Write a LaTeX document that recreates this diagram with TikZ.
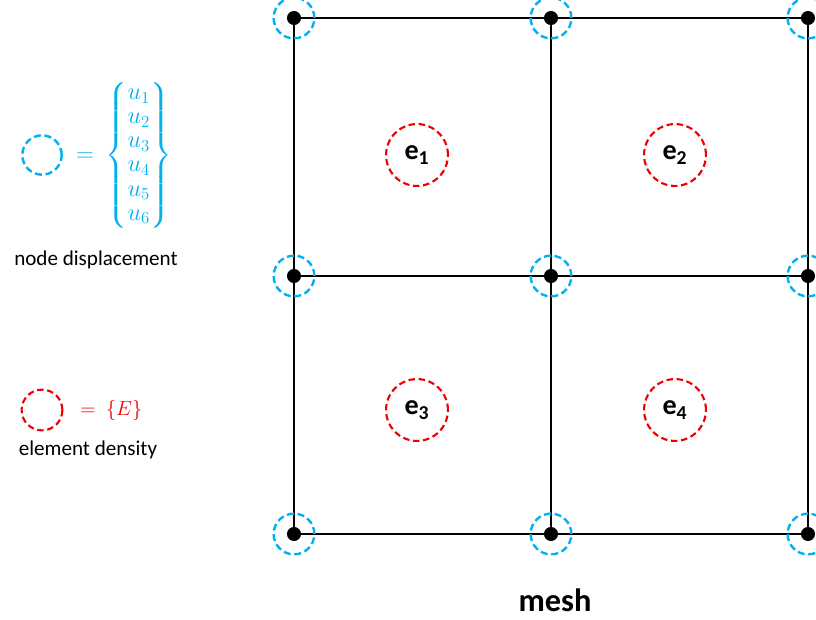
\documentclass[tikz,border=0pt]{standalone}
\usepackage{amsmath}
\usepackage{fontspec}
\setmainfont{Carlito}
\definecolor{dofblue}{RGB}{0,176,240}
\definecolor{elemred}{RGB}{238,0,0}

\begin{document}
\begin{tikzpicture}[
x = 0.025cm,
y = -0.025cm,
dot/.style = {circle, fill=black, inner sep=0pt, minimum size=10},
dof/.style = {circle, draw=dofblue, line width=1.7pt, dash pattern=on 5pt off 2.6pt, inner sep=0pt, minimum size=29},
elem/.style = {circle, draw=elemred, line width=1.5pt, dash pattern=on 4.6pt off 2.6pt, inner sep=0pt, minimum size=44, font=\fontsize{20}{22}\selectfont\bfseries},
bar/.style = {line width=1.9pt}
]
  \useasboundingbox (0,0) rectangle (816,619);

  % mesh points
  \node[dot] (p11) at (294,18) {};
  \node[dot] (p12) at (551,18) {};
  \node[dot] (p13) at (808,18) {};
  \node[dot] (p21) at (294,276) {};
  \node[dot] (p22) at (551,276) {};
  \node[dot] (p23) at (808,276) {};
  \node[dot] (p31) at (294,534) {};
  \node[dot] (p32) at (551,534) {};
  \node[dot] (p33) at (808,534) {};

  % element edges
  \draw[bar] (p11) -- (p12) -- (p13);
  \draw[bar] (p21) -- (p22) -- (p23);
  \draw[bar] (p31) -- (p32) -- (p33);
  \draw[bar] (p11) -- (p21) -- (p31);
  \draw[bar] (p12) -- (p22) -- (p32);
  \draw[bar] (p13) -- (p23) -- (p33);

  % displacement dofs
  \foreach \n in {11,12,13,21,22,23,31,32,33}
    \node[dof] (d\n) at (p\n) {};

  % element densities
  \node[elem] (e1) at (417,155) {e\textsubscript{1}};
  \node[elem] (e2) at (675,155) {e\textsubscript{2}};
  \node[elem] (e3) at (417,410) {e\textsubscript{3}};
  \node[elem] (e4) at (675,410) {e\textsubscript{4}};

  % legend
  \node[dof, minimum size=28] (keyu) at (42,155) {};
  \node[text=dofblue, anchor=west, inner sep=0pt, font=\fontsize{17}{20}\selectfont] (uvec) at (76,155)
    {\renewcommand{\arraystretch}{0.86}$=\ \left\{\begin{matrix}u_1\\ u_2\\ u_3\\ u_4\\ u_5\\ u_6\end{matrix}\right\}$};
  \node[font=\fontsize{15}{17}\selectfont] (keyutext) at (96,260) {node displacement};

  \node[elem, minimum size=29] (keye) at (42,410) {};
  \node[text=elemred, anchor=west, inner sep=0pt, font=\fontsize{15}{18}\selectfont] (evec) at (80,410) {$=\ \{E\}$};
  \node[font=\fontsize{15}{17}\selectfont] (keyetext) at (88,450) {element density};

  \node[font=\fontsize{23}{26}\selectfont\bfseries] (title) at (555,600) {mesh};
\end{tikzpicture}
\end{document}
